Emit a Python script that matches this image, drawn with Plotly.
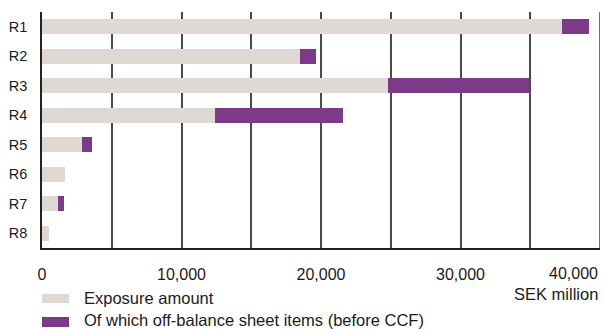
import plotly.graph_objects as go

categories = ["R1", "R2", "R3", "R4", "R5", "R6", "R7", "R8"]
exposure_amount = [37300, 18500, 24800, 12400, 2870, 1650, 1150, 500]
off_balance = [1900, 1150, 10100, 9200, 710, 0, 430, 0]
tick_values = [0, 10000, 20000, 30000]
tick_labels = ["0", "10,000", "20,000", "30,000"]

GRAY = "#e0d9d3"
PURPLE = "#7c3a88"
FONT = "Liberation Sans, Arial, Helvetica, sans-serif"
TXT = "#1a1a1a"

fig = go.Figure()
fig.add_trace(go.Bar(y=categories, x=exposure_amount, orientation="h",
                     marker=dict(color=GRAY, line=dict(width=0)),
                     name="Exposure amount", width=0.5))
fig.add_trace(go.Bar(y=categories, x=off_balance, orientation="h",
                     marker=dict(color=PURPLE, line=dict(width=0)),
                     name="Of which off-balance sheet items (before CCF)", width=0.5))

fig.update_layout(
    barmode="stack",
    width=604, height=329,
    margin=dict(l=42, r=4, t=12, b=81),
    paper_bgcolor="white", plot_bgcolor="white",
    showlegend=False,
    font=dict(family=FONT, size=14.5, color=TXT),
)
fig.update_xaxes(
    range=[0, 40000], tickvals=tick_values, ticktext=tick_labels,
    tickfont=dict(size=16),
    showgrid=False,
    minor=dict(dtick=5000, tick0=0, showgrid=True, gridcolor="#4a4a4a", gridwidth=1.5),
    showline=True, linecolor="#222", linewidth=1.5,
    ticks="outside", ticklen=11, tickcolor="rgba(0,0,0,0)",
    zeroline=False, fixedrange=True,
)
fig.update_yaxes(
    autorange="reversed", showgrid=False,
    showline=True, linecolor="#222", linewidth=1.5,
    ticks="outside", ticklen=10, tickcolor="rgba(0,0,0,0)",
)

# Gridline at 40,000 (right edge)
fig.add_shape(type="line", xref="x", yref="paper", x0=40000, x1=40000, y0=0, y1=1,
              line=dict(color="#6e6e6e", width=2))

fig.add_annotation(x=40000, y=0, xref="x", yref="paper", text="40,000",
                   showarrow=False, xanchor="right", yanchor="top", yshift=-15,
                   font=dict(family=FONT, size=16, color=TXT))
fig.add_annotation(x=1.0, y=(248 - 294) / 236, xref="paper", yref="paper",
                   text="SEK million", showarrow=False, xanchor="right", yanchor="middle",
                   font=dict(family=FONT, size=16.5, color=TXT))

# Legend drawn manually
def px_x(p):
    return (p - 42) / 558

def px_y(p):
    return (248 - p) / 236

legend_items = [("Exposure amount", GRAY, 294, 303, 298),
                ("Of which off-balance sheet items (before CCF)", PURPLE, 317, 327, 319.5)]
for label, col, top, bot, mid in legend_items:
    fig.add_shape(type="rect", xref="paper", yref="paper",
                  x0=px_x(42), x1=px_x(69), y0=px_y(bot), y1=px_y(top),
                  fillcolor=col, line=dict(width=0))
    fig.add_annotation(x=px_x(82), y=px_y(mid), xref="paper", yref="paper",
                       text=label, showarrow=False, xanchor="left", yanchor="middle",
                       font=dict(family=FONT, size=16.5, color=TXT))

fig.write_html("out.html")
